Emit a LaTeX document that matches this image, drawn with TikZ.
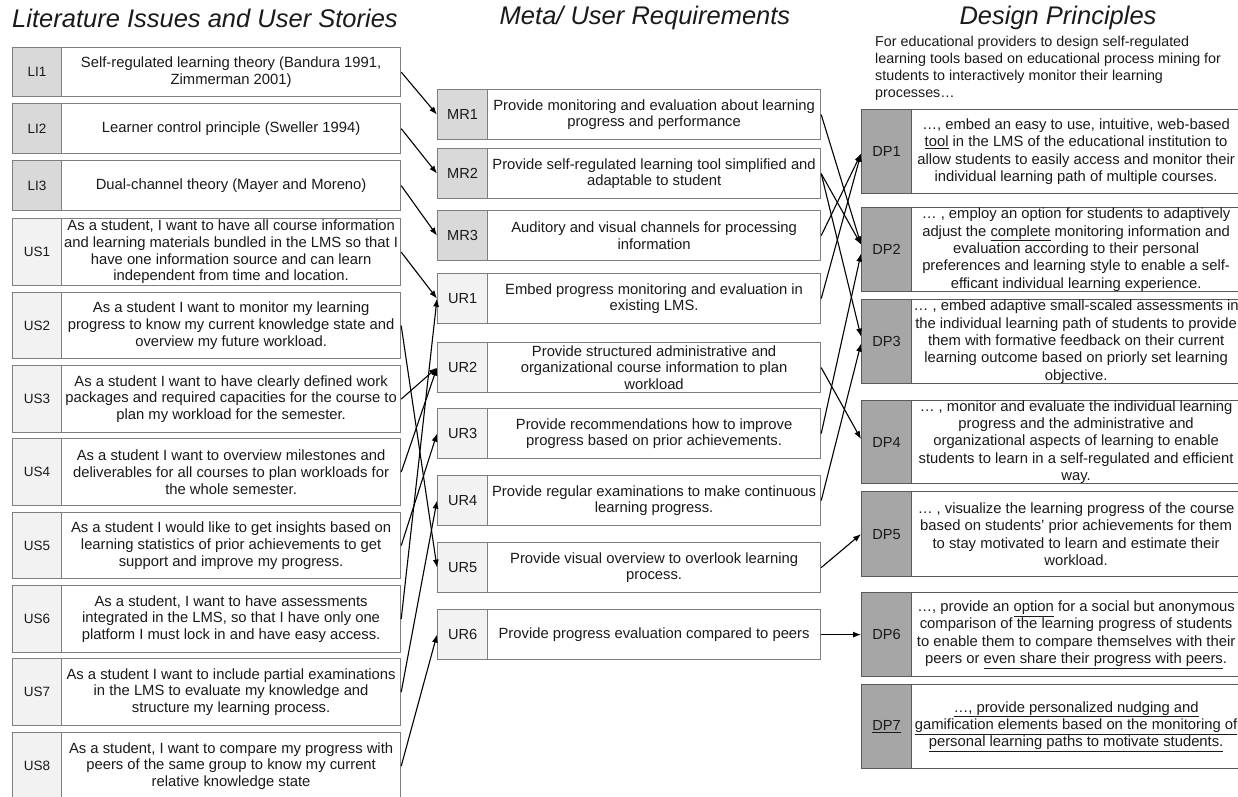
\documentclass[tikz,border=0pt]{standalone}
\usepackage{fontspec}
\setmainfont{Liberation Sans}
\usetikzlibrary{arrows.meta}

\definecolor{boxline}{HTML}{7F7F7F}
\definecolor{dpline}{HTML}{5A5A5A}
\definecolor{lightfill}{HTML}{F2F2F2}
\definecolor{midfill}{HTML}{D9D9D9}
\definecolor{darkfill}{HTML}{A6A6A6}
\definecolor{ink}{HTML}{1A1A1A}

\newcommand\headfont{\fontsize{25.5}{30}\selectfont\itshape}
\newcommand\bodyfont{\fontsize{14.8}{16.7}\selectfont}
\newcommand\dpfont{\fontsize{14.8}{17.3}\selectfont}
\newcommand\smalllabfont{\fontsize{13.5}{16}\selectfont}
\newcommand\labfont{\fontsize{14.6}{17}\selectfont}

\tikzset{
  cellbase/.style={draw=boxline, line width=1.2pt, inner sep=0pt, align=center, text=ink},
  lilab/.style={cellbase, fill=midfill, font=\smalllabfont},
  uslab/.style={cellbase, fill=lightfill, font=\smalllabfont},
  mrlab/.style={cellbase, fill=midfill, font=\labfont},
  urlab/.style={cellbase, fill=lightfill, font=\labfont},
  dplab/.style={cellbase, draw=dpline, fill=darkfill, font=\labfont},
  txtcell/.style={cellbase, fill=white, font=\bodyfont},
  dptxt/.style={cellbase, draw=dpline, fill=white, font=\dpfont},
  header/.style={font=\headfont, text=ink, inner sep=0pt},
  conn/.style={draw=black, line width=1.1pt, -{Latex[length=8pt,width=6pt]}},
}

% #1 name, #2 label, #3 left x, #4 divider x, #5 right x, #6 top y, #7 bottom y,
% #8 label style, #9 text
\newcommand\diagrow[9]{%
  \node[#8, minimum width={#4-#3}, minimum height={#7-#6}, anchor=north west] (#1l) at (#3,#6) {#2};
  \node[txtcell, minimum width={#5-#4}, minimum height={#7-#6}, anchor=north west] (#1) at (#4,#6) {#9};
}
\newcommand\dprow[5]{%
  \node[dplab, minimum width=50, minimum height={#5-#4}, anchor=north west] (#1l) at (861,#4) {#2};
  \node[dptxt, minimum width=329, minimum height={#5-#4}, anchor=north west] (#1) at (911,#4) {#3};
}

\begin{document}
\begin{tikzpicture}[x=1pt, y=-1pt]
  \fill[white] (0,0) rectangle (1238,796);
  \useasboundingbox (0,0) rectangle (1238,796);

  % column headings
  \node[header] (h1) at (205,18) {Literature Issues and User Stories};
  \node[header] (h2) at (645,18) {Meta/ User Requirements};
  \node[header] (h3) at (1058,18) {Design Principles};

  \node[anchor=north west, align=left, font=\fontsize{14.3}{17}\selectfont, text=ink, inner sep=0pt] (intro) at (875,36)
    {For educational providers to design self-regulated\\
     learning tools based on educational process mining for\\
     students to interactively monitor their learning\\
     processes…};

  % literature issues and user stories
  \diagrow{LI1}{LI1}{12}{61}{400}{47}{96}{lilab}{Self-regulated learning theory (Bandura 1991,\\ Zimmerman 2001)}
  \diagrow{LI2}{LI2}{12}{61}{400}{103}{153}{lilab}{Learner control principle (Sweller 1994)}
  \diagrow{LI3}{LI3}{12}{61}{400}{160}{210}{lilab}{Dual-channel theory (Mayer and Moreno)}
  \diagrow{US1}{US1}{12}{61}{400}{218}{285}{uslab}{As a student, I want to have all course information\\and learning materials bundled in the LMS so that I\\have one information source and can learn\\independent from time and location.}
  \diagrow{US2}{US2}{12}{61}{400}{292}{358}{uslab}{As a student I want to monitor my learning\\progress to know my current knowledge state and\\overview my future workload.}
  \diagrow{US3}{US3}{12}{61}{400}{365}{432}{uslab}{As a student I want to have clearly defined work\\packages and required capacities for the course to\\plan my workload for the semester.}
  \diagrow{US4}{US4}{12}{61}{400}{438}{505}{uslab}{As a student I want to overview milestones and\\deliverables for all courses to plan workloads for\\the whole semester.}
  \diagrow{US5}{US5}{12}{61}{400}{512}{578}{uslab}{As a student I would like to get insights based on\\learning statistics of prior achievements to get\\support and improve my progress.}
  \diagrow{US6}{US6}{12}{61}{400}{585}{652}{uslab}{As a student, I want to have assessments\\integrated in the LMS, so that I have only one\\platform I must lock in and have easy access.}
  \diagrow{US7}{US7}{12}{61}{400}{658}{725}{uslab}{As a student I want to include partial examinations\\in the LMS to evaluate my knowledge and\\structure my learning process.}
  \diagrow{US8}{US8}{12}{61}{400}{732}{799}{uslab}{As a student, I want to compare my progress with\\peers of the same group to know my current\\relative knowledge state}

  % meta and user requirements
  \diagrow{MR1}{MR1}{437}{487}{820}{89}{139}{mrlab}{Provide monitoring and evaluation about learning\\progress and performance}
  \diagrow{MR2}{MR2}{437}{487}{820}{148}{198}{mrlab}{Provide self-regulated learning tool simplified and\\adaptable to student}
  \diagrow{MR3}{MR3}{437}{487}{820}{210}{260}{mrlab}{Auditory and visual channels for processing\\information}
  \diagrow{UR1}{UR1}{437}{487}{820}{273}{323}{urlab}{Embed progress monitoring and evaluation in\\existing LMS.}
  \diagrow{UR2}{UR2}{437}{487}{820}{342}{392}{urlab}{Provide structured administrative and\\organizational course information to plan\\workload}
  \diagrow{UR3}{UR3}{437}{487}{820}{408}{458}{urlab}{Provide recommendations how to improve\\progress based on prior achievements.}
  \diagrow{UR4}{UR4}{437}{487}{820}{475}{525}{urlab}{Provide regular examinations to make continuous\\learning progress.}
  \diagrow{UR5}{UR5}{437}{487}{820}{542}{592}{urlab}{Provide visual overview to overlook learning\\process.}
  \diagrow{UR6}{UR6}{437}{487}{820}{609}{659}{urlab}{Provide progress evaluation compared to peers}

  % design principles
  \dprow{DP1}{DP1}{…, embed an easy to use, intuitive, web-based\\\underline{tool} in the LMS of the educational institution to\\allow students to easily access and monitor their\\individual learning path of multiple courses.}{109}{193}
  \dprow{DP2}{DP2}{… ,  employ an option for students to adaptively\\adjust the \underline{complete} monitoring information and\\evaluation according to their personal\\preferences and learning style to enable a self-\\efficant individual learning experience.}{207}{291}
  \dprow{DP3}{DP3}{… , embed adaptive small-scaled assessments in\\the individual learning path of students to provide\\them with formative feedback on their current\\learning outcome based on priorly set learning\\objective.}{299}{383}
  \dprow{DP4}{DP4}{… , monitor and evaluate the individual learning\\progress and the administrative and\\organizational aspects of learning to enable\\students to learn in a self-regulated and efficient\\way.}{400}{483}
  \dprow{DP5}{DP5}{… , visualize the learning progress of the course\\based on students' prior achievements for them\\to stay motivated to learn and estimate their\\workload.}{491}{576}
  \dprow{DP6}{DP6}{…, provide an \underline{option} for a social but anonymous\\comparison of the learning progress of students\\to enable them to compare themselves with their\\peers or \underline{even share their progress with peers}.}{592}{676}
  \dprow{DP7}{\underline{DP7}}{\underline{…, provide personalized nudging and}\\\underline{gamification elements based on the monitoring of}\\\underline{personal learning paths to motivate students.}}{684}{768}

  % stories and literature to requirements
  \draw[conn] (LI1.east) -- (MR1l.west);
  \draw[conn] (LI2.east) -- (MR2l.west);
  \draw[conn] (LI3.east) -- (MR3l.west);
  \draw[conn] (US1.east) -- (UR1l.west);
  \draw[conn] (US2.east) -- (UR5l.west);
  \draw[conn] (US3.east) -- (UR2l.west);
  \draw[conn] (US4.east) -- (UR2l.west);
  \draw[conn] (US5.east) -- (UR3l.west);
  \draw[conn] (US6.east) -- (UR1l.west);
  \draw[conn] (US7.east) -- (UR4l.west);
  \draw[conn] (US8.east) -- (UR6l.west);

  % requirements to design principles
  \draw[conn] (MR1.east) -- ([yshift=5pt]DP2l.west);
  \draw[conn] (MR2.east) -- ([yshift=5pt]DP2l.west);
  \draw[conn] (MR2.east) -- ([yshift=5pt]DP3l.west);
  \draw[conn] (MR3.east) -- ([yshift=-2pt]DP1l.west);
  \draw[conn] (UR1.east) -- ([yshift=-2pt]DP1l.west);
  \draw[conn] (UR2.east) -- ([yshift=3pt]DP4l.west);
  \draw[conn] (UR3.east) -- ([yshift=-4pt]DP2l.west);
  \draw[conn] (UR4.east) -- ([yshift=-2pt]DP3l.west);
  \draw[conn] (UR5.east) -- (DP5l.west);
  \draw[conn] (UR6.east) -- (DP6l.west);
\end{tikzpicture}
\end{document}
